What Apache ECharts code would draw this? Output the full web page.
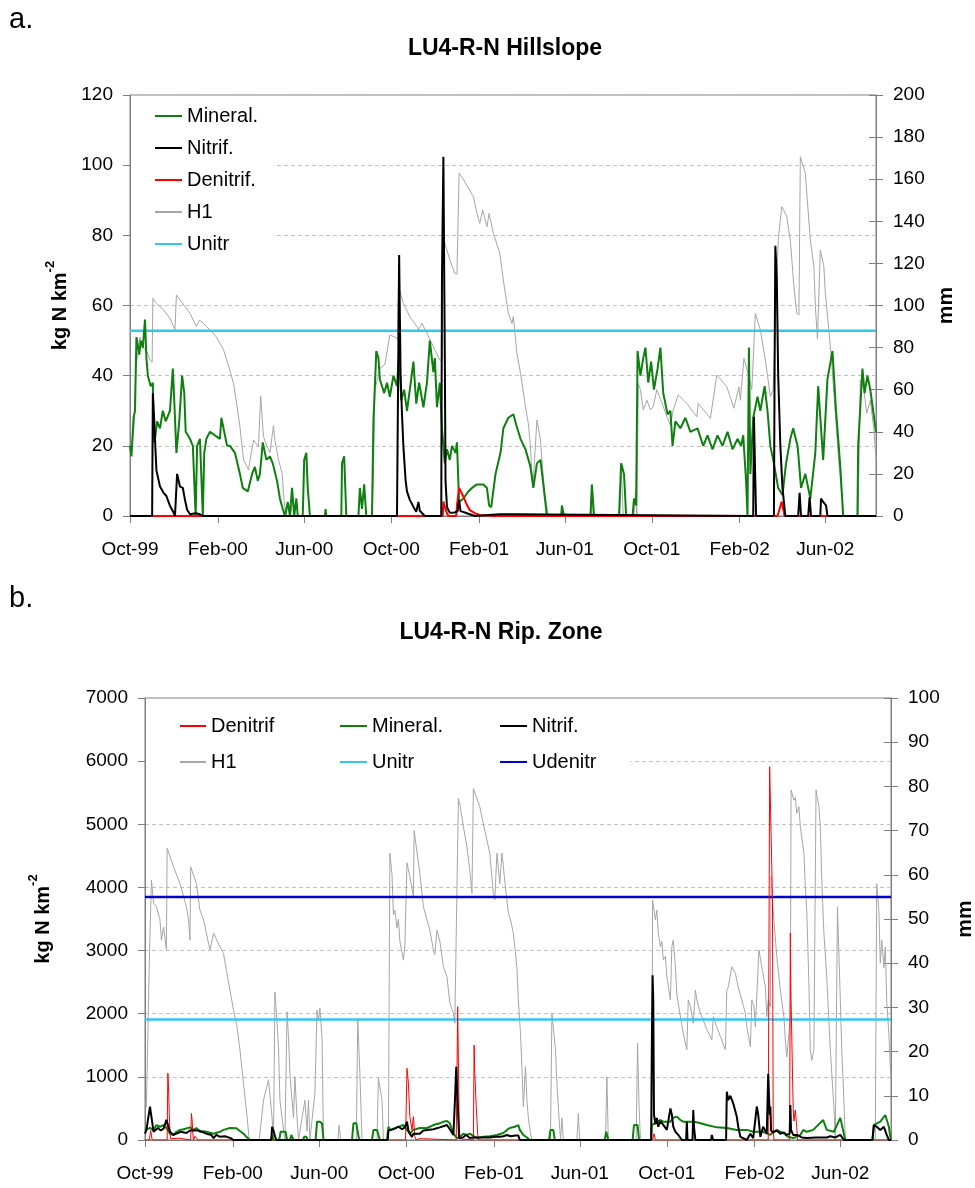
<!DOCTYPE html>
<html>
<head>
<meta charset="utf-8">
<script src="https://cdn.jsdelivr.net/npm/echarts@6/dist/echarts.min.js"></script>
<style>
html,body{margin:0;padding:0;background:#fff;}
#chart{width:975px;height:1188px;}
</style>
</head>
<body>
<div id="chart"></div>
<script>
// x values are days counted from 1 Oct 1999
const tickDays = [0, 123, 244, 366, 489, 609, 731, 854, 974];
const tickLabels = ['Oct-99', 'Feb-00', 'Jun-00', 'Oct-00', 'Feb-01', 'Jun-01', 'Oct-01', 'Feb-02', 'Jun-02'];
const X_MAX = 1045;

// ---------- Panel a: LU4-R-N Hillslope ----------
const mineralA = [[0,20],[2,17],[5,28],[7,30],[9,51],[13,46],[15,50],[18,48],[21,56],[23,45],[25,40],[29,37],[32,38],[33,21],[35,22],[38,27],[42,25],[46,30],[50,27],[56,30],[60,42],[63,28],[65,18],[69,27],[73,40],[76,35],[78,24],[84,22],[88,20],[92,0],[94,20],[98,22],[102,0],[104,18],[107,22],[112,24],[119,23],[126,22],[128,28],[132,24],[136,20],[140,20],[147,18],[154,12],[158,8],[165,7],[171,12],[175,14],[179,10],[182,12],[186,21],[191,16],[196,17],[200,15],[206,10],[210,5],[214,2],[217,0],[221,4],[224,0],[227,8],[230,0],[233,5],[235,0],[242,0],[244,16],[247,18],[249,8],[252,0],[273,0],[274,2],[275,0],[296,0],[297,15],[300,17],[303,0],[320,0],[322,8],[325,2],[328,9],[331,0],[339,0],[341,27],[345,47],[348,45],[350,39],[356,35],[360,38],[364,34],[369,40],[374,37],[377,46],[380,33],[384,36],[388,30],[392,36],[397,44],[401,32],[405,38],[411,31],[416,38],[420,50],[425,41],[427,45],[430,31],[434,38],[437,25],[441,15],[444,19],[448,16],[451,20],[456,18],[458,21],[461,4],[467,5],[474,7],[479,8],[486,9],[495,9],[500,8],[503,3],[506,2.5],[512,12],[519,18],[523,25],[530,28],[537,29],[541,26],[547,22],[554,19],[561,14],[565,8],[570,15],[575,16],[579,9],[584,0],[604,0],[605,3],[608,0],[645,0],[647,9],[650,0],[685,0],[688,15],[692,12],[695,0],[704,0],[706,5],[709,3],[711,47],[715,40],[719,45],[722,48],[726,38],[730,44],[734,36],[739,42],[743,48],[747,35],[753,29],[757,30],[760,20],[764,27],[771,25],[778,28],[785,24],[795,25],[803,20],[809,23],[816,19],[823,23],[830,20],[837,24],[844,19],[851,22],[856,20],[859,23],[863,10],[865,0],[867,48],[869,12],[873,28],[879,34],[883,30],[889,37],[893,30],[897,20],[901,16],[908,8],[914,6],[919,15],[925,22],[929,25],[935,20],[936,18],[940,8],[946,12],[953,5],[960,18],[964,37],[971,16],[977,39],[984,47],[989,30],[995,14],[999,0],[1019,0],[1020,20],[1026,42],[1029,35],[1033,40],[1037,36],[1041,30],[1045,24]];
const nitrifA = [[0,0],[31,0],[32,35],[34,27],[35,22],[37,13],[42,8.4],[47,6.6],[51,5.7],[56,2.9],[61,1],[63,0],[65,0],[66,12],[70,8.4],[74,8],[77,4.6],[80,1.8],[84,0.5],[92,0.8],[98,0.5],[102,0],[374,0],[377,74.4],[379,40.7],[381,29],[383,19.7],[386,10.3],[388,7],[392,4.6],[397,2.6],[401,1.2],[404,4],[406,1.5],[413,0],[436,0],[437,68],[439,102.4],[441,45],[442,10],[444,2.6],[448,0.9],[455,1],[459,1.4],[461,4.6],[463,1.4],[469,1],[476,0.5],[483,0],[518,0.5],[537,0.5],[539,0],[873,0],[874,28.3],[877,0],[902,0],[903,44],[904,77],[906,68],[908,40],[911,20],[914,8],[918,0],[936,0],[938,6.6],[940,0],[950,0],[952,5.3],[954,0],[967,0],[968,5],[971,4],[975,3],[977,0],[1045,0]];
const denitrifA = [[0,0],[438,0],[439,4.1],[441,2.6],[444,0.8],[446,0],[457,0],[458,3],[461,8],[467,5.5],[472,3.1],[476,1.7],[483,0.8],[490,0.3],[504,0.1],[518,0],[907,0],[913,4.1],[917,0],[1045,0]];
// H1 is read on the right axis (mm)
const h1A = [[0,28],[3,33],[6,45],[8,70],[14,85],[18,80],[24,78],[28,74],[31,73],[32,103.4],[37,101],[47,97.9],[56,93.9],[63,88.4],[65,105],[72,101.8],[84,96.3],[93,90],[97,93],[103,91.5],[107,90],[112,88.4],[121,85],[131,79],[140,69],[145,63],[150,52],[154,42.4],[159,26.6],[164,23.4],[166,22],[173,36],[180,33],[183,57],[187,37.7],[192,33],[196,30],[201,43],[203,36],[208,26.6],[213,20.4],[215,10.9],[218,0],[222,6],[225,0],[228,9],[231,0],[339,0],[341,20],[343,60],[350,70],[357,72],[364,86],[371,85],[375,84],[376,108],[378,107],[383,101],[392,94.7],[402,90],[404,88.4],[409,91.5],[416,86.8],[425,80.4],[434,74],[437,74],[439,134],[441,129.7],[448,121.6],[455,115.3],[458,115],[461,162.8],[465,161],[472,157],[481,151.7],[486,143.8],[490,139],[494,145.4],[500,137.4],[503,143.8],[509,134.3],[518,124.8],[523,112],[530,96.3],[535,91.5],[537,94.7],[542,77.3],[547,67.8],[554,51.9],[558,44],[561,32.9],[563,20.3],[565,17.1],[570,45.6],[575,36.1],[577,26.6],[581,10.8],[586,0],[604,0],[605,5],[607,0],[646,0],[647,14],[649,0],[686,0],[688,25],[691,0],[706,0],[708,12],[710,0],[712,63],[715,60],[719,50.4],[724,55],[729,50.4],[733,52],[738,60],[743,55.5],[747,52],[752,47.2],[757,43],[761,50.4],[768,57.5],[780,53.5],[794,47.2],[796,53.5],[813,46.4],[822,67],[836,61.4],[846,51.2],[853,61.4],[855,55],[860,74.9],[867,66.2],[871,60],[876,96.3],[883,88.4],[890,74.1],[897,56.7],[901,60],[908,131],[913,147],[916,145],[920,142.2],[925,131],[930,109],[934,96.3],[937,95.5],[939,170.7],[946,162.8],[953,131],[958,118.5],[960,100],[963,84],[967,126.4],[972,118.5],[974,105.8],[979,88.4],[983,72.5],[988,48.8],[993,25],[1000,0],[1020,0],[1023,64.6],[1028,60],[1032,48.8],[1037,55],[1042,41],[1045,26.6]];
const unitrA = 52.8;

// ---------- Panel b: LU4-R-N Rip. Zone ----------
const denitrifB = [[0,0],[6,0],[8,150],[10,0],[31,0],[32,1060],[33,840],[34,420],[35,100],[36,20],[38,30],[47,30],[49,0],[64,0],[65,420],[66,317],[67,100],[68,0],[70,60],[74,0],[365,0],[367,1135],[369,900],[371,370],[374,160],[376,370],[378,50],[380,0],[384,20],[390,20],[392,0],[436,0],[438,2110],[439,1250],[440,300],[441,20],[443,0],[460,0],[461,1504],[462,1056],[464,528],[466,100],[467,0],[711,0],[713,100],[715,0],[873,0],[875,5912],[877,4855],[879,3800],[880,200],[881,0],[903,0],[904,3278],[905,2217],[907,2217],[908,500],[909,300],[911,475],[913,200],[914,0],[1045,0]];
const mineralB = [[0,160],[7,190],[12,160],[16,237],[21,210],[26,237],[30,190],[35,100],[40,80],[44,130],[49,160],[54,170],[63,200],[68,160],[72,190],[77,130],[82,140],[86,130],[96,100],[105,130],[110,160],[119,190],[128,185],[138,100],[142,50],[147,0],[176,0],[178,80],[180,0],[188,0],[190,130],[194,130],[197,130],[199,0],[203,0],[205,80],[208,0],[221,0],[223,50],[226,50],[228,0],[239,0],[241,290],[245,290],[248,260],[250,0],[290,0],[292,264],[296,264],[300,0],[318,0],[320,160],[325,160],[329,0],[339,0],[341,210],[343,160],[353,200],[362,237],[371,100],[376,160],[385,190],[395,190],[399,210],[404,237],[413,264],[418,290],[423,300],[427,264],[432,100],[437,30],[441,50],[446,100],[451,80],[455,100],[465,30],[474,50],[483,60],[493,80],[502,110],[507,160],[511,190],[518,210],[523,237],[525,160],[530,80],[535,40],[539,0],[566,0],[568,160],[572,160],[574,0],[644,0],[646,130],[649,0],[683,0],[685,237],[690,237],[692,0],[709,0],[710,237],[712,264],[722,317],[726,290],[736,290],[740,350],[745,370],[750,317],[754,290],[764,290],[773,280],[787,237],[801,200],[815,190],[829,160],[843,160],[852,130],[866,130],[876,80],[880,130],[885,160],[894,110],[901,50],[908,30],[918,80],[922,160],[927,130],[936,160],[950,317],[955,160],[965,130],[974,350],[979,100],[981,0],[1019,0],[1021,237],[1030,290],[1037,396],[1042,210],[1044,50],[1045,0]];
const nitrifB = [[0,100],[2,160],[7,528],[9,540],[12,130],[14,160],[18,190],[22,150],[26,180],[30,320],[35,130],[40,80],[44,100],[50,130],[58,110],[63,150],[68,150],[75,150],[86,100],[93,80],[96,30],[100,80],[105,50],[112,60],[120,30],[124,0],[177,0],[178,210],[180,150],[182,60],[184,0],[340,0],[341,150],[345,160],[350,180],[355,210],[360,170],[364,200],[367,290],[369,150],[371,100],[374,50],[376,100],[385,100],[390,150],[404,170],[413,200],[423,237],[427,170],[432,80],[434,580],[436,1160],[437,1160],[439,300],[440,30],[445,40],[450,80],[455,30],[460,40],[470,40],[483,40],[490,50],[497,50],[502,60],[507,80],[512,60],[519,70],[523,70],[525,0],[709,0],[710,1500],[711,2610],[712,2200],[713,400],[715,250],[717,350],[719,210],[722,300],[726,240],[731,160],[736,500],[738,400],[740,210],[743,130],[747,80],[752,0],[758,0],[759,290],[760,0],[767,0],[768,475],[769,210],[771,0],[793,0],[794,80],[796,0],[814,0],[815,765],[817,633],[820,700],[824,580],[829,370],[831,210],[834,50],[838,30],[843,0],[848,100],[852,30],[857,530],[859,400],[862,50],[866,210],[871,100],[873,1050],[875,400],[876,530],[877,150],[880,120],[885,150],[890,100],[895,120],[899,80],[903,100],[904,554],[905,160],[908,80],[913,80],[920,40],[927,30],[940,40],[955,40],[960,60],[967,40],[974,80],[979,0],[1019,0],[1021,237],[1025,210],[1030,160],[1035,210],[1039,80],[1042,0],[1045,0]];
// H1 is read on the right axis (mm)
const h1B = [[0,9],[2,7.5],[6,40],[9,58.8],[12,53.6],[16,52.8],[21,49.8],[23,45.2],[26,48.2],[30,43],[31,66],[40,61.8],[49,58],[58,52.8],[61,49.8],[63,45.2],[64,61.8],[72,58],[77,52],[82,49.8],[91,43],[96,46.8],[105,43.7],[110,42.2],[114,38.4],[124,29.4],[129,25.6],[133,20.4],[138,12.8],[143,5.3],[146,0],[160,0],[166,9],[173,13.6],[178,5],[180,0],[182,33.5],[185,26.4],[187,21],[189,9],[194,2.3],[196,0],[199,29],[201,23.4],[203,15],[206,9],[208,5],[210,14.3],[213,5],[215,0],[224,9],[227,2],[229,9],[231,0],[238,10.6],[241,29.4],[243,27],[245,29.8],[248,23],[250,0],[270,0],[272,3.4],[274,0],[296,0],[298,27.5],[301,15],[304,0],[325,0],[327,14],[332,9],[334,0],[341,0],[343,64.9],[346,60],[348,51],[350,52],[353,48],[355,50],[357,45],[362,40.7],[364,44],[367,62.7],[371,59.6],[376,55],[377,70],[385,60.3],[390,52.8],[395,49.8],[399,47.5],[404,43],[406,42],[409,47.5],[413,45],[418,39.2],[423,36.9],[427,31],[432,28.7],[434,26.4],[439,77.3],[441,76],[446,70.9],[451,66.3],[455,61],[458,55.8],[460,79.5],[469,75.4],[476,70],[483,64.9],[488,55.8],[490,54.3],[493,64.9],[497,58],[500,64.9],[505,57],[509,51.3],[512,49.8],[516,46.8],[521,39],[523,31.7],[526,24.1],[528,16.6],[530,7.5],[533,16.6],[535,9],[537,5],[540,1.5],[542,0],[568,0],[570,28.7],[575,20.4],[577,12.8],[579,7.5],[582,0],[584,5],[586,0],[605,0],[607,6],[609,0],[645,0],[647,14.3],[649,0],[688,0],[690,21.9],[692,8],[694,0],[710,0],[711,54.3],[715,49.8],[717,52],[719,46.8],[722,43.7],[724,45],[726,40.7],[729,41.5],[731,37],[736,31.7],[738,43.7],[740,45.2],[743,39.2],[745,33],[750,27.9],[754,24.1],[759,20.4],[761,31.7],[764,30.2],[768,26.4],[771,33.9],[773,31.7],[778,28.7],[782,27.1],[787,25],[794,22.6],[796,27.9],[801,25.6],[806,23.4],[813,20.4],[815,33.9],[817,34.6],[822,39.2],[827,37.7],[831,34.6],[836,31.7],[841,28.7],[843,25.6],[848,21.1],[850,31.7],[853,30.2],[855,25.6],[860,43],[864,39.2],[869,34.6],[871,27.9],[873,31.7],[876,30.2],[877,59.6],[879,54.3],[881,49.8],[885,41.5],[890,33.9],[895,27.9],[897,22.6],[899,18.8],[902,24.1],[904,27.9],[905,79.2],[909,76.9],[911,77.5],[913,73.9],[916,75.4],[918,70.9],[923,64.9],[925,57.3],[927,52],[930,35.4],[932,20.4],[934,18],[937,20.4],[940,79.2],[944,75.4],[946,70.9],[948,58.8],[951,46.8],[955,36.9],[960,20.4],[965,7.5],[967,0],[970,52.8],[974,31.7],[976,20.4],[979,9],[981,0],[1023,0],[1025,58],[1028,52],[1030,40],[1032,45.2],[1035,39],[1037,43.7],[1039,31.7],[1042,24.1],[1044,16.6],[1045,14]];
const unitrB = 1910;
const udenitrB = 3850;

// ---------- styling ----------
const FONT = '"Liberation Sans", Arial, sans-serif';
const AXIS_GRAY = '#7f7f7f';
const C = {mineral:'#0f7f0f', nitrif:'#000000', denitrif:'#ff0000', h1:'#a6a6a6', unitr:'#33c6ee', udenitr:'#0000cc'};

function xLabel(v){
  const i = tickDays.findIndex(d => Math.abs(d - v) < 3);
  return i >= 0 ? tickLabels[i] : '';
}
function flat(v){ return [[0, v], [X_MAX, v]]; }

function xAxisCfg(g){
  return {
    gridIndex: g, type: 'value', min: 0, max: X_MAX, interval: 121.75,
    axisLine: {show: true, onZero: false, lineStyle: {color: AXIS_GRAY, width: 1}},
    axisTick: {show: true, length: 7, customValues: tickDays, lineStyle: {color: AXIS_GRAY}},
    axisLabel: {customValues: tickDays, formatter: xLabel, fontSize: 19, color: '#000', fontFamily: FONT, margin: 24},
    splitLine: {show: false}
  };
}
const nameRich = {
  t: {fontSize: 20, fontWeight: 'bold', fontFamily: FONT, color: '#000', lineHeight: 26, verticalAlign: 'bottom'},
  s: {fontSize: 13, fontWeight: 'bold', fontFamily: FONT, color: '#000', lineHeight: 14, verticalAlign: 'top'}
};
function leftAxis(g, max, interval, gap){
  return {
    gridIndex: g, type: 'value', position: 'left', min: 0, max: max, interval: interval,
    name: '{t|kg N km}{s|-2}', nameLocation: 'middle', nameRotate: 90, nameGap: gap,
    nameTextStyle: {rich: nameRich, fontFamily: FONT},
    axisLine: {show: true, lineStyle: {color: AXIS_GRAY}},
    axisTick: {show: true, length: 7, lineStyle: {color: AXIS_GRAY}},
    axisLabel: {fontSize: 19, color: '#000', fontFamily: FONT, margin: 17, formatter: v => String(v)},
    splitLine: {show: true, lineStyle: {color: '#c3c3c3', type: [4, 3], width: 1}}
  };
}
function rightAxis(g, max, interval, gap){
  return {
    gridIndex: g, type: 'value', position: 'right', min: 0, max: max, interval: interval,
    name: 'mm', nameLocation: 'middle', nameRotate: 90, nameGap: gap,
    nameTextStyle: {fontSize: 21, fontWeight: 'bold', color: '#000', fontFamily: FONT},
    axisLine: {show: true, lineStyle: {color: AXIS_GRAY}},
    axisTick: {show: true, length: 7, lineStyle: {color: AXIS_GRAY}},
    axisLabel: {fontSize: 19, color: '#000', fontFamily: FONT, margin: 17, formatter: v => String(v)},
    splitLine: {show: false}
  };
}
function innerTicks(g, max, interval){
  return {
    gridIndex: g, type: 'value', position: 'right', min: 0, max: max, interval: interval,
    axisLine: {show: false}, axisLabel: {show: false}, splitLine: {show: false},
    axisTick: {show: true, inside: true, length: 7, lineStyle: {color: AXIS_GRAY}}
  };
}
function line(name, data, x, y, color, width){
  return {name: name, type: 'line', xAxisIndex: x, yAxisIndex: y, data: data,
    showSymbol: false, symbol: 'none', animation: false, clip: true,
    lineStyle: {color: color, width: width}, itemStyle: {color: color}};
}
const legendText = {fontSize: 20, color: '#000', fontFamily: FONT, lineHeight: 22};
const legendCommon = {orient: 'vertical', icon: 'rect', itemWidth: 27, itemHeight: 2,
  backgroundColor: '#fff', textStyle: legendText, selectedMode: false};

const option = {
  backgroundColor: '#fff',
  animation: false,
  title: [
    {text: 'a.', left: 9, top: 5, padding: 0, textStyle: {fontSize: 29, fontWeight: 'normal', color: '#000', fontFamily: FONT}},
    {text: 'LU4-R-N Hillslope', left: 505, top: 37, padding: 0, textAlign: 'center', textStyle: {fontSize: 23, fontWeight: 'bold', color: '#000', fontFamily: FONT}},
    {text: 'b.', left: 9, top: 584, padding: 0, textStyle: {fontSize: 29, fontWeight: 'normal', color: '#000', fontFamily: FONT}},
    {text: 'LU4-R-N Rip. Zone', left: 501, top: 621, padding: 0, textAlign: 'center', textStyle: {fontSize: 23, fontWeight: 'bold', color: '#000', fontFamily: FONT}}
  ],
  legend: [
    Object.assign({}, legendCommon, {data: ['Mineral.', 'Nitrif.', 'Denitrif.', 'H1', 'Unitr'], left: 131, top: 96,
      padding: [9, 15, 14, 24], itemGap: 10}),
    Object.assign({}, legendCommon, {data: ['Denitrif', 'H1'], left: 146, top: 703,
      padding: [12, 70, 12, 34], itemGap: 14, itemWidth: 26}),
    Object.assign({}, legendCommon, {data: ['Mineral.', 'Unitr'], left: 325, top: 703,
      padding: [12, 60, 12, 15], itemGap: 14}),
    Object.assign({}, legendCommon, {data: ['Nitrif.', 'Udenitr'], left: 485, top: 703,
      padding: [12, 34, 12, 15], itemGap: 14})
  ],
  grid: [
    {left: 130, top: 95, width: 746, height: 421, show: true, borderColor: AXIS_GRAY, borderWidth: 1, backgroundColor: 'transparent', outerBoundsMode: 'none', containLabel: false},
    {left: 145, top: 698, width: 746, height: 442, show: true, borderColor: AXIS_GRAY, borderWidth: 1, backgroundColor: 'transparent', outerBoundsMode: 'none', containLabel: false}
  ],
  xAxis: [xAxisCfg(0), xAxisCfg(1)],
  yAxis: [
    leftAxis(0, 120, 20, 51),
    rightAxis(0, 200, 20, 58),
    innerTicks(0, 200, 20),
    leftAxis(1, 7000, 1000, 92),
    rightAxis(1, 100, 10, 64),
    innerTicks(1, 100, 10)
  ],
  series: [
    line('H1', h1A, 0, 1, C.h1, 1),
    line('Unitr', flat(unitrA), 0, 0, C.unitr, 2.5),
    line('Mineral.', mineralA, 0, 0, C.mineral, 2),
    line('Denitrif.', denitrifA, 0, 0, C.denitrif, 2),
    line('Nitrif.', nitrifA, 0, 0, C.nitrif, 2),

    line('H1', h1B, 1, 4, C.h1, 1),
    line('Unitr', flat(unitrB), 1, 3, C.unitr, 2.5),
    line('Udenitr', flat(udenitrB), 1, 3, C.udenitr, 2.5),
    line('Mineral.', mineralB, 1, 3, C.mineral, 2),
    line('Denitrif', denitrifB, 1, 3, C.denitrif, 1),
    line('Nitrif.', nitrifB, 1, 3, C.nitrif, 2)
  ]
};

const chart = echarts.init(document.getElementById('chart'), null, {renderer: 'canvas'});
chart.setOption(option);
</script>
</body>
</html>
